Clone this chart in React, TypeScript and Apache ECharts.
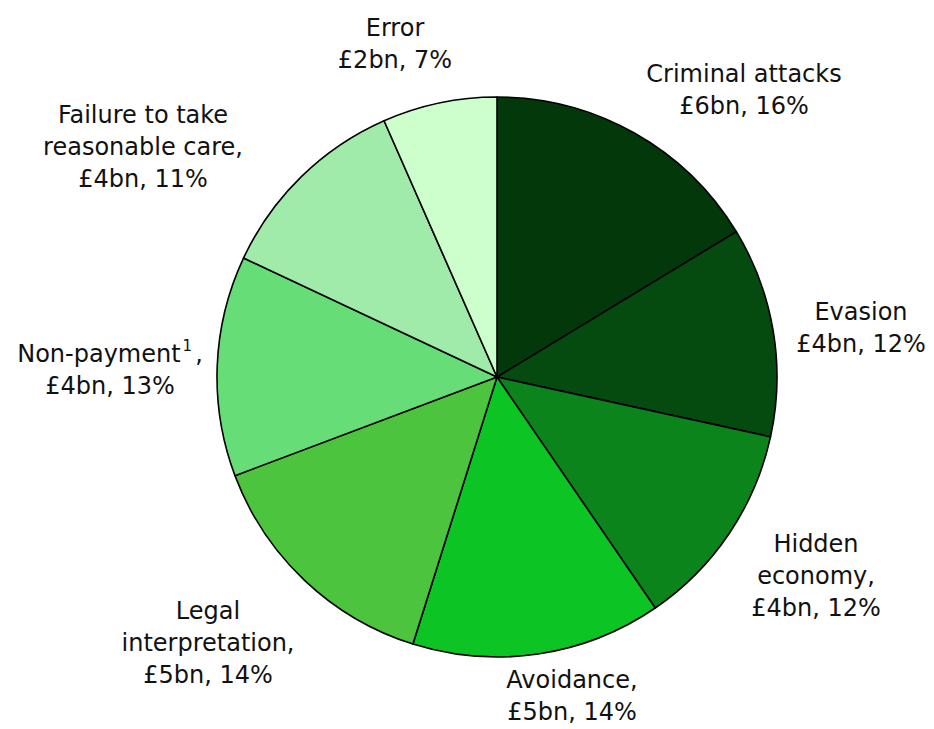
import React, { useEffect, useRef } from "react";
import * as echarts from "echarts";

// Behaviours (clockwise from 12 o'clock)
const categories = [
  "Criminal attacks",
  "Evasion",
  "Hidden economy",
  "Avoidance",
  "Legal interpretation",
  "Non-payment",
  "Failure to take reasonable care",
  "Error",
];
// Share of the slice (%)
const shares = [16.3, 12.1, 12.0, 14.4, 14.4, 12.7, 11.4, 6.6];
// Printed amounts (£bn) and percentages
const amountsBn = [6, 4, 4, 5, 5, 4, 4, 2];
const percents = [16, 12, 12, 14, 14, 13, 11, 7];
// Label name text as printed (line breaks as in the chart)
const labelNames = [
  "Criminal attacks",
  "Evasion",
  "Hidden\neconomy,",
  "Avoidance,",
  "Legal\ninterpretation,",
  "Non-payment{sup|1},",
  "Failure to take\nreasonable care,",
  "Error",
];

// Styles / layout (not data)
const colors = [
  "#03380b",
  "#054a0f",
  "#0b841b",
  "#0dc425",
  "#4cc43d",
  "#66dd77",
  "#a0eaaa",
  "#ccffcc",
];
const CX = 497;
const CY = 377;
const R = 280;
// label block centre relative to pie centre
const labelOffsets: [number, number][] = [
  [247, -287],
  [364, -49],
  [319, 199],
  [75, 319],
  [-289, 266],
  [-387, -7],
  [-354, -230],
  [-102, -333],
];

export default function App() {
  const ref = useRef<HTMLDivElement>(null);
  useEffect(() => {
    if (!ref.current) return;
    const chart = echarts.init(ref.current, null, { renderer: "svg" });
    const data = categories.map((name, i) => ({
      name,
      value: shares[i],
      itemStyle: { color: colors[i] },
    }));
    chart.setOption({
      animation: false,
      backgroundColor: "#ffffff",
      series: [
        {
          type: "pie",
          center: [CX, CY],
          radius: R,
          startAngle: 90,
          clockwise: true,
          avoidLabelOverlap: false,
          silent: true,
          data,
          itemStyle: { borderColor: "#000000", borderWidth: 1.6 },
          emphasis: { disabled: true },
          labelLine: { show: false },
          label: {
            show: true,
            position: "outside",
            color: "#111111",
            fontFamily: "DejaVu Sans, Verdana, sans-serif",
            fontSize: 24,
            lineHeight: 32,
            align: "center",
            formatter: (p: any) => {
              const i = p.dataIndex;
              return `${labelNames[i]}\n£${amountsBn[i]}bn, ${percents[i]}%`;
            },
            rich: {
              sup: {
                fontSize: 15,
                fontFamily: "DejaVu Sans, Verdana, sans-serif",
                color: "#111111",
                verticalAlign: "top",
                lineHeight: 32,
                padding: [0, 3, 12, 2],
              },
            },
          },
          labelLayout: (params: any) => {
            const i = params.dataIndex;
            return {
              x: CX + labelOffsets[i][0],
              y: CY + labelOffsets[i][1],
              align: "center",
              verticalAlign: "middle",
            };
          },
        },
      ],
    });
    return () => chart.dispose();
  }, []);
  return (
    <div
      ref={ref}
      style={{ position: "fixed", left: 0, top: 0, width: 934, height: 729 }}
    />
  );
}
